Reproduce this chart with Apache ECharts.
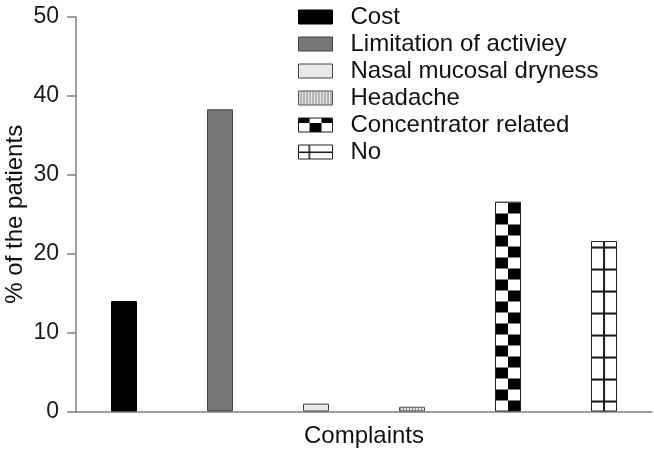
<!DOCTYPE html>
<html>
<head>
<meta charset="utf-8">
<script src="https://cdn.jsdelivr.net/npm/echarts@6/dist/echarts.min.js"></script>
<style>
html,body{margin:0;padding:0;background:#fff;}
#chart{width:654px;height:449px;}
</style>
</head>
<body>
<div id="chart"></div>
<script>
// complaints (legend order = bar order)
var categories = ['Cost', 'Limitation of activiey', 'Nasal mucosal dryness', 'Headache', 'Concentrator related', 'No'];
var values = [14.0, 38.3, 1.0, 0.6, 26.6, 21.6];
var yTicks = [0, 10, 20, 30, 40, 50];

var FONT = '"Liberation Sans", Arial, Helvetica, sans-serif';
var BAR_W = 26;

function makeCanvas(w, h, draw) {
    var c = document.createElement('canvas');
    c.width = w;
    c.height = h;
    draw(c.getContext('2d'));
    return c;
}

// bar tiles
var checkerTile = makeCanvas(26, 22, function (ctx) {
    ctx.fillStyle = '#fff';
    ctx.fillRect(0, 0, 26, 22);
    ctx.fillStyle = '#000';
    ctx.fillRect(0, 0, 13, 11);
    ctx.fillRect(13, 11, 13, 11);
});
var gridTile = makeCanvas(26, 22, function (ctx) {
    ctx.fillStyle = '#fff';
    ctx.fillRect(0, 0, 26, 22);
    ctx.fillStyle = '#1a1a1a';
    ctx.fillRect(12, 0, 2, 22);
    ctx.fillRect(0, 11, 26, 2);
});
var stripeTile = makeCanvas(3, 4, function (ctx) {
    ctx.fillStyle = '#e2e2e2';
    ctx.fillRect(0, 0, 3, 4);
    ctx.fillStyle = '#8a8a8a';
    ctx.fillRect(1, 0, 1, 4);
});

// legend icon images (34x14)
var iconChecker = makeCanvas(34, 14, function (ctx) {
    ctx.fillStyle = '#fff';
    ctx.fillRect(0, 0, 34, 14);
    ctx.fillStyle = '#000';
    ctx.fillRect(0, 0, 11, 5);
    ctx.fillRect(23, 0, 11, 5);
    ctx.fillRect(11, 5, 12, 9);
});
var iconGrid = makeCanvas(34, 14, function (ctx) {
    ctx.fillStyle = '#fff';
    ctx.fillRect(0, 0, 34, 14);
    ctx.fillStyle = '#1a1a1a';
    ctx.fillRect(10, 0, 1.5, 14);
    ctx.fillRect(0, 6.5, 34, 1.5);
});
var iconStripe = makeCanvas(34, 14, function (ctx) {
    ctx.fillStyle = '#e2e2e2';
    ctx.fillRect(0, 0, 34, 14);
    ctx.fillStyle = '#8a8a8a';
    for (var x = 2; x < 34; x += 3) ctx.fillRect(x, 0, 1, 14);
});

function pat(img, x, y) {
    return {image: img, repeat: 'repeat', x: x || 0, y: y || 0};
}

var barStyles = [
    {color: '#000', borderColor: '#000', borderWidth: 1},
    {color: '#777', borderColor: '#444', borderWidth: 1},
    {color: '#e8e8e8', borderColor: '#444', borderWidth: 1},
    {color: pat(stripeTile), borderColor: '#555', borderWidth: 1},
    {color: pat(checkerTile), borderColor: '#222', borderWidth: 1},
    {color: pat(gridTile), borderColor: '#222', borderWidth: 1}
];
var iconStyles = [
    {color: '#000', borderColor: '#000', borderWidth: 1},
    {color: '#777', borderColor: '#444', borderWidth: 1},
    {color: '#e8e8e8', borderColor: '#444', borderWidth: 1},
    {color: pat(iconStripe), borderColor: '#555', borderWidth: 1},
    {color: pat(iconChecker), borderColor: '#222', borderWidth: 1},
    {color: pat(iconGrid), borderColor: '#222', borderWidth: 1}
];

function seriesData(i) {
    return categories.map(function (c, j) { return j === i ? values[i] : '-'; });
}

var myChart = echarts.init(document.getElementById('chart'));
var option = {
    animation: false,
    backgroundColor: '#fff',
    textStyle: {fontFamily: FONT},
    grid: {left: 76, top: 17, width: 576, height: 394.5, containLabel: false, outerBoundsMode: 'none'},
    legend: {
        orient: 'vertical',
        left: 298,
        top: 5,
        padding: 0,
        itemGap: 3,
        itemWidth: 34,
        itemHeight: 14,
        icon: 'rect',
        selectedMode: false,
        textStyle: {fontFamily: FONT, fontSize: 24, lineHeight: 24, color: '#111', padding: [0, 0, 0, 13]},
        data: categories.map(function (c, i) { return {name: c, itemStyle: iconStyles[i]}; })
    },
    xAxis: {
        type: 'category',
        data: categories,
        boundaryGap: true,
        name: 'Complaints',
        nameLocation: 'middle',
        nameGap: 13,
        nameMoveOverlap: false,
        nameTextStyle: {fontFamily: FONT, fontSize: 24, color: '#111'},
        axisLine: {lineStyle: {color: '#808080', width: 1.5}},
        axisTick: {length: 10, lineStyle: {color: '#808080', width: 1.5}},
        axisLabel: {show: false}
    },
    yAxis: {
        type: 'value',
        min: 0,
        max: 50,
        interval: 10,
        name: '% of the patients',
        nameLocation: 'middle',
        nameGap: 49,
        nameMoveOverlap: false,
        nameTextStyle: {fontFamily: FONT, fontSize: 24, color: '#111'},
        axisLine: {show: true, lineStyle: {color: '#808080', width: 1.5}},
        axisTick: {show: true, length: 9, lineStyle: {color: '#808080', width: 1.5}},
        axisLabel: {
            margin: 17,
            fontFamily: FONT,
            fontSize: 23,
            color: '#1a1a1a',
            formatter: function (v) { return yTicks.indexOf(v) >= 0 ? String(v) : ''; }
        },
        splitLine: {show: false}
    },
    series: categories.map(function (c, i) {
        return {
            name: c,
            type: 'bar',
            stack: 'all',
            barWidth: BAR_W,
            data: seriesData(i),
            itemStyle: barStyles[i]
        };
    })
};
myChart.setOption(option);

// anchor the pattern tiles to the bars' own pixel positions
var zeroY = myChart.convertToPixel({gridIndex: 0}, [0, 0])[1];
var left3 = myChart.convertToPixel({gridIndex: 0}, [3, 0])[0] - BAR_W / 2;
var left4 = myChart.convertToPixel({gridIndex: 0}, [4, 0])[0] - BAR_W / 2;
var left5 = myChart.convertToPixel({gridIndex: 0}, [5, 0])[0] - BAR_W / 2;
myChart.setOption({
    series: [
        {}, {}, {},
        {itemStyle: {color: pat(stripeTile, left3, zeroY)}},
        {itemStyle: {color: pat(checkerTile, left4, zeroY)}},
        {itemStyle: {color: pat(gridTile, left5, zeroY)}}
    ]
});
</script>
</body>
</html>
